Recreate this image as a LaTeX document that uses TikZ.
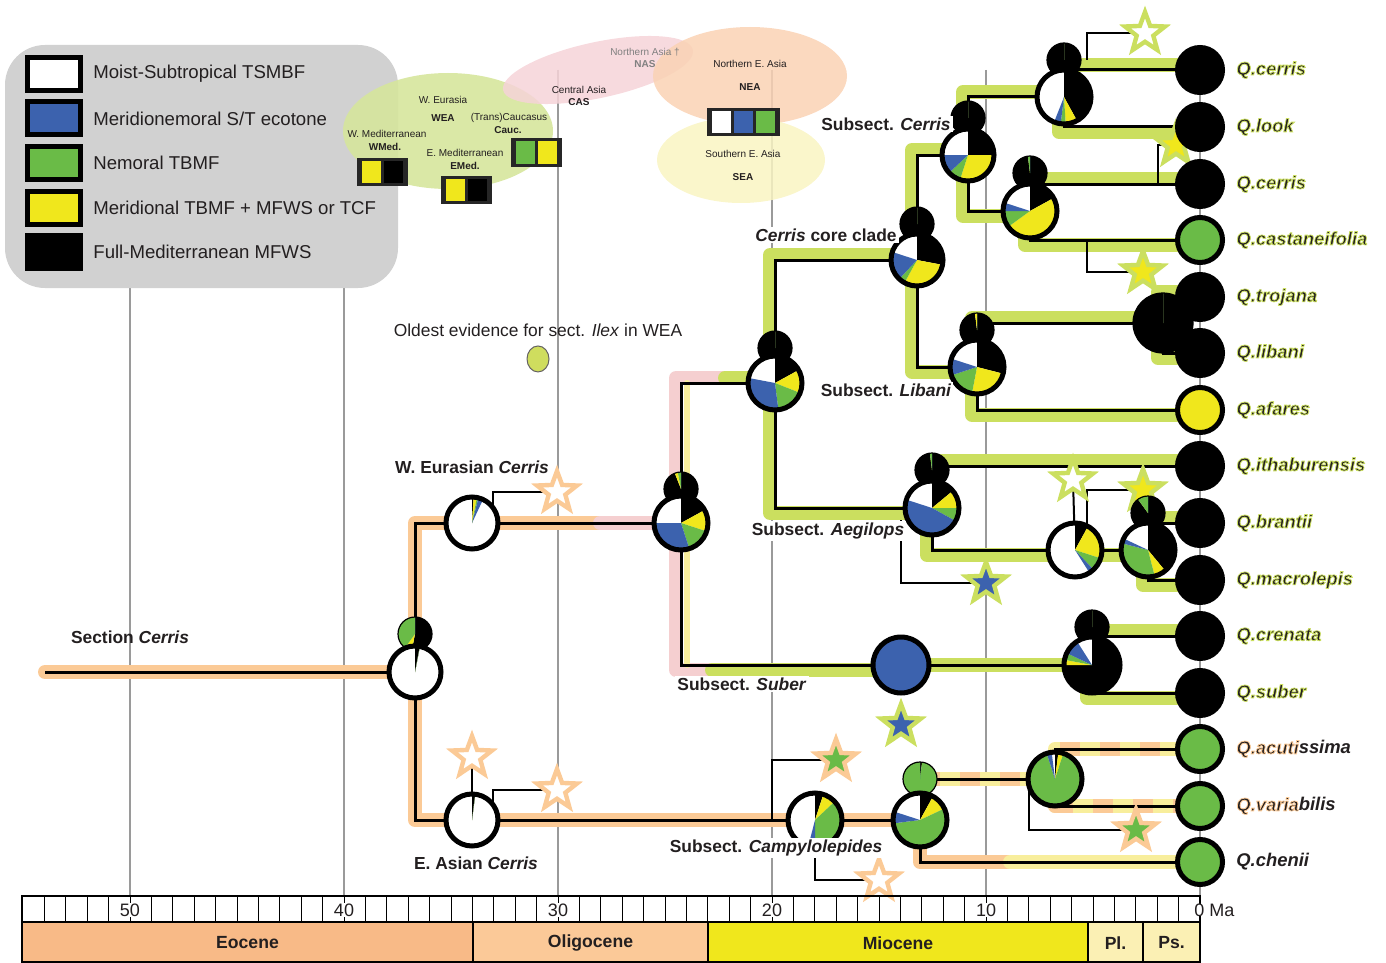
\documentclass[tikz,border=0pt]{standalone}
\usepackage{fontspec}
\setmainfont{Liberation Sans}
\usetikzlibrary{positioning,shapes.geometric}

\definecolor{cblue}{HTML}{3C62AE}
\definecolor{cgreen}{HTML}{6ABB47}
\definecolor{cyellow}{HTML}{F0E71C}
\definecolor{bandorange}{HTML}{FBCA96}
\definecolor{bandlime}{HTML}{CBDF5F}
\definecolor{bandpink}{HTML}{F5CFD0}
\definecolor{bandyellow}{HTML}{F8EE9C}
\definecolor{legendgrey}{HTML}{D1D1D1}
\definecolor{gridgrey}{HTML}{9A9A9A}
\definecolor{textdark}{HTML}{231F20}
\definecolor{chipframe}{HTML}{262626}
\definecolor{weafill}{HTML}{D6E69C}
\definecolor{nasfill}{HTML}{F6D3D8}
\definecolor{neafill}{HTML}{FAD2B4}
\definecolor{seafill}{HTML}{F9F4C2}
\definecolor{ilexfill}{HTML}{CFDD5E}
\definecolor{eocene}{HTML}{F8BA87}
\definecolor{oligocene}{HTML}{FBC998}
\definecolor{pliocene}{HTML}{FBF0B4}

% outlined species names (fill + stroke)
\newcommand{\limeq}[1]{\special{pdf:literal direct 2 Tr 0.4 w 0.796 0.875 0.373 RG}#1\special{pdf:literal direct 0 Tr}}
\newcommand{\orangeq}[1]{\special{pdf:literal direct 2 Tr 0.4 w 0.984 0.792 0.588 RG}#1\special{pdf:literal direct 0 Tr}}

% pie: [style]{coordinate}{radius}{black}{yellow}{green}{blue}, rest white
\newcommand{\piechart}[7][bigpie]{%
  \pgfmathsetmacro{\angA}{90-3.6*#4}%
  \pgfmathsetmacro{\angB}{\angA-3.6*#5}%
  \pgfmathsetmacro{\angC}{\angB-3.6*#6}%
  \pgfmathsetmacro{\angD}{\angC-3.6*#7}%
  \fill[white] (#2) circle[radius=#3];
  \fill[black] (#2) -- ++(90:#3) arc[start angle=90, end angle=\angA, radius=#3] -- cycle;
  \fill[cyellow] (#2) -- ++(\angA:#3) arc[start angle=\angA, end angle=\angB, radius=#3] -- cycle;
  \fill[cgreen] (#2) -- ++(\angB:#3) arc[start angle=\angB, end angle=\angC, radius=#3] -- cycle;
  \fill[cblue] (#2) -- ++(\angC:#3) arc[start angle=\angC, end angle=\angD, radius=#3] -- cycle;
  \node[#1, minimum size=#3pt] (#2pie) at (#2) {};
}

\begin{document}
\begin{tikzpicture}[x=0.5pt, y=0.5pt,
    every node/.style={text=textdark},
    gridline/.style={draw=gridgrey, line width=0.8pt},
    band/.style={line width=7pt, line cap=round, line join=round},
    oband/.style={band, draw=bandorange},
    lband/.style={band, draw=bandlime},
    pband/.style={band, draw=bandpink},
    yband/.style={band, draw=bandyellow},
    dband/.style={band, line cap=butt, draw=bandorange, dash pattern=on 10pt off 10pt},
    branch/.style={draw=black, line width=1.5pt},
    link/.style={draw=black, line width=1pt},
    bigpie/.style={circle, draw=black, line width=2.5pt, inner sep=0pt},
    smallpie/.style={circle, draw=black, line width=0.6pt, inner sep=0pt},
    tip/.style={circle, draw=black, line width=2.5pt, inner sep=0pt, minimum size=22.5pt},
    tiplabel/.style={font=\fontsize{9.2}{11}\selectfont\bfseries\itshape, inner sep=1pt},
    ostar/.style={star, star points=5, star point ratio=2.4, minimum size=21pt, inner sep=0pt, draw=bandorange, line width=2.2pt},
    lstar/.style={ostar, draw=bandlime},
    clade/.style={font=\fontsize{8.7}{10}\selectfont\bfseries, fill=white, inner sep=1pt},
    legbox/.style={rectangle, draw=black, line width=2.5pt, minimum width=26.5pt, minimum height=16.5pt},
    legtext/.style={font=\fontsize{9.3}{11}\selectfont, inner sep=0pt},
    region/.style={font=\fontsize{5}{6}\selectfont, inner sep=0.5pt},
    regionb/.style={region, font=\fontsize{5}{6}\selectfont\bfseries},
    chip/.style={rectangle, fill=chipframe, minimum width=25.5pt, minimum height=14pt, inner sep=0pt},
    cell/.style={rectangle, minimum width=9.5pt, minimum height=11pt, inner sep=0pt},
    axnum/.style={font=\fontsize{9}{10}\selectfont, fill=white, inner sep=0.5pt},
    epochtxt/.style={font=\fontsize{8.8}{10}\selectfont\bfseries},
  ]
  \useasboundingbox (0,0) rectangle (1386,-963);

  % time grid
  \foreach \x in {130,344,558,772,986,1200}
    \draw[gridline] (\x,-70) -- (\x,-896);

  % legend
  \fill[legendgrey, rounded corners=20pt] (5,-45) rectangle (398,-288);
  \foreach \i/\c/\t in {0/white/{Moist-Subtropical TSMBF}, 1/cblue/{Meridionemoral S/T ecotone},
      2/cgreen/{Nemoral TBMF}, 3/cyellow/{Meridional TBMF + MFWS or TCF}, 4/black/{Full-Mediterranean MFWS}} {
    \node[legbox, fill=\c] (key\i) at (54,-74-44.5*\i) {};
    \node[legtext, right=5pt of key\i] (keytext\i) {\t};
  }

  % areas
  \fill[weafill, opacity=0.9] (448,-131) ellipse[x radius=105, y radius=58];
  \fill[nasfill, opacity=0.85, rotate around={12:(598,-70)}] (598,-70) ellipse[x radius=97, y radius=28];
  \fill[neafill, opacity=0.85] (750,-76) ellipse[x radius=97, y radius=49];
  \fill[seafill, opacity=0.85] (741,-160) ellipse[x radius=84, y radius=43];

  \node[region, text=gray] (nas) at (645,-52) {Northern Asia †};
  \node[regionb, text=gray] (nasb) at (645,-64) {NAS};
  \node[region] (cas) at (579,-90) {Central Asia};
  \node[regionb] (casb) at (579,-102) {CAS};
  \node[region] (wea) at (443,-100) {W. Eurasia};
  \node[regionb] (weab) at (443,-118) {WEA};
  \node[region] (cauc) at (509,-118) {(Trans)Caucasus};
  \node[regionb] (caucb) at (508,-130) {Cauc.};
  \node[region] (wmed) at (387,-134) {W. Mediterranean};
  \node[regionb] (wmedb) at (385,-147) {WMed.};
  \node[region] (emed) at (465,-153) {E. Mediterranean};
  \node[regionb] (emedb) at (465,-166) {EMed.};
  \node[region] (nea) at (750,-64) {Northern E. Asia};
  \node[regionb] (neab) at (750,-87) {NEA};
  \node[region] (sea) at (743,-154) {Southern E. Asia};
  \node[regionb] (seab) at (743,-177) {SEA};

  \node[chip] (wmedchip) at (382.5,-172) {};
  \node[cell, fill=cyellow] (wmedc1) at (371.5,-172) {};
  \node[cell, fill=black] (wmedc2) at (393.5,-172) {};
  \node[chip] (emedchip) at (466.5,-190) {};
  \node[cell, fill=cyellow] (emedc1) at (455.5,-190) {};
  \node[cell, fill=black] (emedc2) at (477.5,-190) {};
  \node[chip] (caucchip) at (536,-152.5) {};
  \node[cell, fill=cgreen] (caucc1) at (525,-152.5) {};
  \node[cell, fill=cyellow] (caucc2) at (547,-152.5) {};
  \node[chip, minimum width=36.5pt] (neachip) at (743.5,-122) {};
  \node[cell, fill=white] (neac1) at (721.5,-122) {};
  \node[cell, fill=cblue] (neac2) at (743.5,-122) {};
  \node[cell, fill=cgreen] (neac3) at (765.5,-122) {};

  \node[font=\fontsize{8.7}{10}\selectfont] (ilex) at (538,-330) {Oldest evidence for sect. \textit{Ilex} in WEA};
  \node[ellipse, draw=textdark!70, line width=0.5pt, fill=ilexfill, minimum width=11pt, minimum height=13pt, below=1pt of ilex] (ilexdot) {};

  % tree nodes
  \coordinate (st) at (45,-672);
  \coordinate (root) at (415,-672);   \coordinate (roots) at (415,-634);
  \coordinate (weur) at (472,-523);   \coordinate (wfade) at (600,-523);
  \coordinate (easia) at (472,-820);
  \coordinate (n3) at (681,-523);     \coordinate (n3s) at (681,-489);
  \coordinate (n4) at (775,-383);     \coordinate (n4s) at (775,-348);
  \coordinate (n4fade) at (725,-383);
  \coordinate (core) at (917,-260);   \coordinate (cores) at (917,-224);
  \coordinate (cer) at (968,-155);    \coordinate (cers) at (968,-118);
  \coordinate (n7) at (1064,-97);     \coordinate (n7s) at (1064,-60);
  \coordinate (n8) at (1030,-211);    \coordinate (n8s) at (1030,-173);
  \coordinate (lib) at (977,-367);    \coordinate (libs) at (977,-330);
  \coordinate (trl) at (1163,-323);
  \coordinate (aeg) at (932,-508);    \coordinate (aegs) at (932,-470);
  \coordinate (n11) at (1075,-550);
  \coordinate (n12) at (1148,-550);   \coordinate (n12s) at (1148,-513);
  \coordinate (sub) at (901,-665);    \coordinate (subfade) at (712,-665);
  \coordinate (n13) at (1092,-665);   \coordinate (n13s) at (1092,-627);
  \coordinate (camp) at (815,-820);
  \coordinate (n16) at (920,-820);    \coordinate (n16s) at (920,-779);
  \coordinate (n17) at (1055,-779);
  \coordinate (chfade) at (1010,-862);
  \foreach \i/\y in {1/70,2/127,3/184,4/240,5/297,6/353,7/410,8/466,9/523,10/580,11/636,12/693,13/749,14/806,15/862}
    \coordinate (t\i) at (1200,-\y);

  % stars
  \coordinate (s1) at (557,-492);
  \coordinate (s2) at (472,-757);
  \coordinate (s3) at (557,-790);
  \coordinate (s4) at (836,-760);
  \coordinate (s5) at (879,-880);
  \coordinate (s6) at (901,-725);
  \coordinate (s7) at (1136,-830);
  \coordinate (s8) at (986,-583);
  \coordinate (s9) at (1073,-480);
  \coordinate (s10) at (1143,-490);
  \coordinate (s11) at (1145,-33);
  \coordinate (s12) at (1176,-145);
  \coordinate (s13) at (1143,-272);

  % bands
  \draw[oband] (st) -- (root);
  \draw[oband] (weur) -| (root) |- (easia);
  \draw[oband] (weur) -- (wfade);
  \draw[pband] (wfade) -- (n3);
  \draw[pband] ([yshift=2.5pt]n4) -| ([xshift=-2.5pt]n3) |- ([yshift=-2.5pt]sub);
  \draw[band, line width=3pt, draw=bandyellow] ([xshift=3pt]n4 -| n3) -- ([xshift=3pt]sub -| n3);
  \draw[lband] ([yshift=2.5pt]n4) -- ([yshift=2.5pt]n4fade);
  \draw[lband] ([yshift=-2.5pt]sub) -- ([yshift=-2.5pt]subfade);
  \draw[oband] (easia) -- (camp) -- (n16);
  \draw[oband] (n16) |- (chfade);
  \draw[yband] (chfade) -- (t15);
  \draw[yband] (n16s) -- (n17);
  \draw[yband] (t13) -| (n17) |- (t14);
  \draw[dband] (n16s) -- (n17);
  \draw[dband] (t13) -| (n17) |- (t14);
  \foreach \a/\b/\c in {core/n4/aeg, cer/core/lib, n7/cer/n8, t1/n7/t2, t3/n8/t4, trl/lib/t7,
      t5/trl/t6, t8/aeg/n11, t9/n12/t10, t11/n13/t12}
    \draw[lband] ([yshift=2.5pt]\a) -| ([xshift=-2.5pt]\b) |- ([yshift=-2.5pt]\c);
  \draw[lband] ([yshift=-2.5pt]n11) -- ([yshift=-2.5pt]n12);
  \draw[lband] (sub) -- (n13);

  % branches
  \draw[branch] (st) -- (root);
  \draw[branch] (weur) -- (n3);
  \draw[branch] (sub) -- (n13);
  \draw[branch] (easia) -- (camp) -- (n16);
  \draw[branch] (n11) -- (n12);
  \foreach \a/\b/\c in {weur/root/easia, n4/n3/sub, core/n4/aeg, cer/core/lib, n7/cer/n8, t1/n7/t2,
      t3/n8/t4, trl/lib/t7, t5/trl/t6, t8/aeg/n11, t9/n12/t10, t11/n13/t12, t13/n17/t14, n17/n16/t15}
    \draw[branch] (\a) -| (\b) |- (\c);

  % links to stars
  \draw[link] (weur) ++(21,11) |- (s1);
  \draw[link] (easia) -- (s2);
  \draw[link] (easia) ++(21,12) |- (s3);
  \draw[link] (camp) ++(-43,0) |- (s4);
  \draw[link] (camp) |- (s5);
  \draw[link] (n17) ++(-26,0) |- (s7);
  \draw[link] (aeg) ++(-31,-12) |- (s8);
  \draw[link] (n11) -- (s9);
  \draw[link] (n11) ++(12,20) |- (s10);
  \draw[link] (n7) ++(23,37) |- (s11);
  \draw[link] (t3) ++(-42,0) |- (s12);
  \draw[link] (n8) ++(57,-29) |- (s13);

  \node[ostar, fill=white] (star1) at (s1) {};
  \node[ostar, fill=white] (star2) at (s2) {};
  \node[ostar, fill=white] (star3) at (s3) {};
  \node[ostar, fill=cgreen] (star4) at (s4) {};
  \node[ostar, fill=white] (star5) at (s5) {};
  \node[lstar, fill=cblue] (star6) at (s6) {};
  \node[ostar, fill=cgreen] (star7) at (s7) {};
  \node[lstar, fill=cblue] (star8) at (s8) {};
  \node[lstar, fill=white] (star9) at (s9) {};
  \node[lstar, fill=cyellow] (star10) at (s10) {};
  \node[lstar, fill=white] (star11) at (s11) {};
  \node[lstar, fill=cyellow] (star12) at (s12) {};
  \node[lstar, fill=cyellow] (star13) at (s13) {};

  % ancestral areas
  \piechart[smallpie]{roots}{17}{53}{7}{40}{0}
  \piechart{root}{26}{3}{0}{0}{0}
  \piechart{weur}{26}{1}{2}{1}{3}
  \piechart{easia}{26}{2}{0}{0}{0}
  \piechart[smallpie]{n3s}{17}{94}{3}{3}{0}
  \piechart{n3}{27}{17}{13}{15}{30}
  \piechart[smallpie]{n4s}{17}{100}{0}{0}{0}
  \piechart{n4}{27}{17}{14}{17}{30}
  \piechart[smallpie]{cores}{17}{100}{0}{0}{0}
  \piechart{core}{26}{28}{30}{4}{18}
  \piechart[smallpie]{cers}{17}{100}{0}{0}{0}
  \piechart{cer}{26}{25}{30}{8}{12}
  \piechart[smallpie]{n7s}{17}{100}{0}{0}{0}
  \piechart{n7}{27}{42}{7}{3}{4}
  \piechart[smallpie]{n8s}{17}{98}{0}{2}{0}
  \piechart{n8}{27}{17}{48}{10}{5}
  \piechart[smallpie]{libs}{17}{98}{2}{0}{0}
  \piechart{lib}{27}{29}{24}{17}{10}
  \piechart[smallpie]{trl}{30}{100}{0}{0}{0}
  \piechart[smallpie]{aegs}{17}{98}{0}{2}{0}
  \piechart{aeg}{27}{14}{11}{8}{47}
  \piechart{n11}{27}{8}{22}{8}{3}
  \piechart[smallpie]{n12s}{17}{90}{0}{10}{0}
  \piechart{n12}{27}{39}{7}{33}{3}
  \piechart{sub}{28}{0}{0}{0}{100}
  \piechart[smallpie]{n13s}{17}{100}{0}{0}{0}
  \piechart{n13}{28}{75}{3}{4}{9}
  \piechart{camp}{27}{5}{8}{37}{4}
  \piechart[smallpie]{n16s}{17}{2}{0}{98}{0}
  \piechart{n16}{27}{8}{10}{55}{7}
  \piechart{n17}{27}{2}{3}{90}{3}

  % species
  \foreach \i/\c/\t in {1/black/{\limeq{Q.cerris}}, 2/black/{\limeq{Q.look}}, 3/black/{\limeq{Q.cerris}},
      4/cgreen/{\limeq{Q.castaneifolia}}, 5/black/{\limeq{Q.trojana}}, 6/black/{\limeq{Q.libani}},
      7/cyellow/{\limeq{Q.afares}}, 8/black/{\limeq{Q.ithaburensis}}, 9/black/{\limeq{Q.brantii}},
      10/black/{\limeq{Q.macrolepis}}, 11/black/{\limeq{Q.crenata}}, 12/black/{\limeq{Q.suber}},
      13/cgreen/{\orangeq{Q.acuti}ssima}, 14/cgreen/{\orangeq{Q.varia}bilis}, 15/cgreen/{Q.chenii}} {
    \node[tip, fill=\c] (tip\i) at (t\i) {};
    \node[tiplabel, right=4.5pt of tip\i] (name\i) {\t};
  }

  % clade labels
  \node[clade, fill=none] (secl) at (130,-637) {Section \textit{Cerris}};
  \node[clade] (weurl) at (472,-467) {W. Eurasian \textit{Cerris}};
  \node[clade] (easial) at (476,-863) {E. Asian \textit{Cerris}};
  \node[clade] (subl) at (742,-684) {Subsect. \textit{Suber}};
  \node[clade] (campl) at (776,-848) {Subsect. \textit{Campylolepides}};
  \node[clade] (aegl) at (828,-531) {Subsect. \textit{Aegilops}};
  \node[clade] (libl) at (886,-390) {Subsect. \textit{Libani}};
  \node[clade] (corel) at (826,-235) {\textit{Cerris} core clade};
  \node[clade] (cerl) at (886,-124) {Subsect. \textit{Cerris}};

  % time scale
  \draw[line width=1pt] (22,-896) rectangle (1200,-922);
  \foreach \k in {1,...,54}
    \draw[line width=0.5pt] (1200-\k*21.4,-896) -- (1200-\k*21.4,-922);
  \foreach \v in {10,20,30,40,50}
    \node[axnum] (ax\v) at (1200-\v*21.4,-910) {\v};
  \node[axnum, anchor=west, inner sep=0pt] (ax0) at (1194,-910) {0 Ma};
  \foreach \a/\b/\c/\n in {22/473/eocene/Eocene, 473/708/oligocene/Oligocene, 708/1088/cyellow/Miocene,
      1088/1143/pliocene/Pl., 1143/1200/pliocene/Ps.} {
    \draw[line width=1.2pt, fill=\c] (\a,-922) rectangle (\b,-962);
    \node[epochtxt] (ep\a) at ({(\a+\b)/2},-943) {\n};
  }
\end{tikzpicture}
\end{document}
